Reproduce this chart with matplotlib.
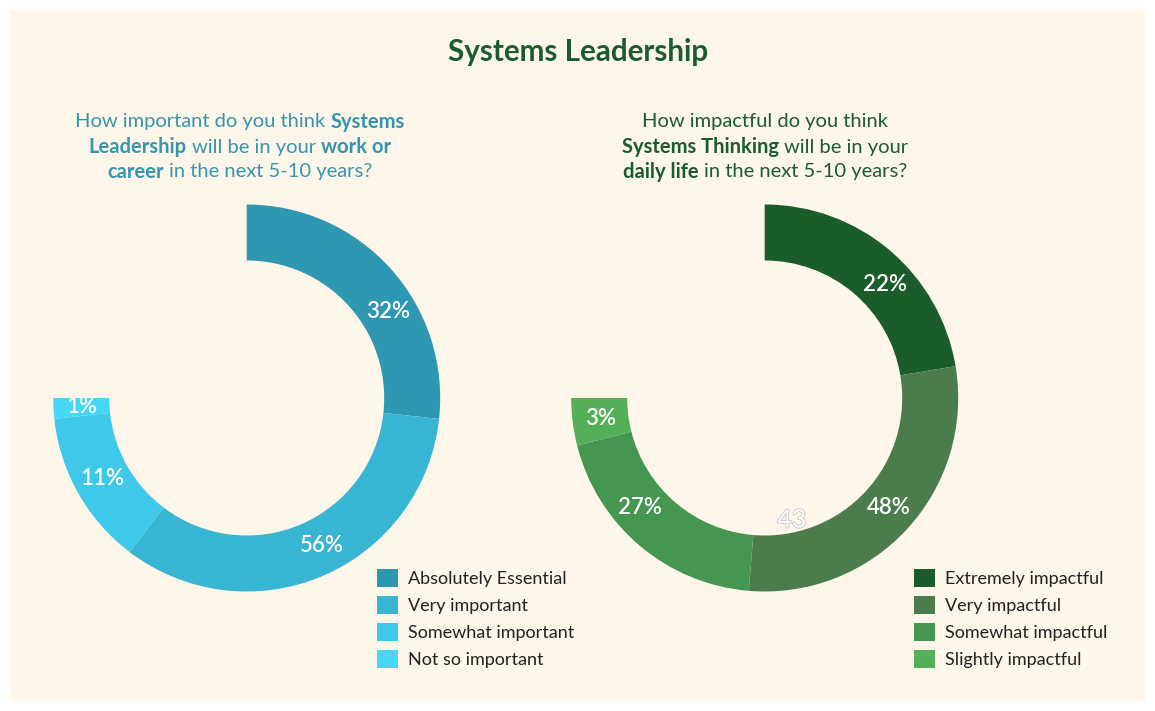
import math
import matplotlib
matplotlib.use("Agg")
import matplotlib.pyplot as plt
import matplotlib.patheffects as pe
from matplotlib.patches import Rectangle

# ---------------- data ----------------
left_categories = ["Absolutely Essential", "Very important", "Somewhat important", "Not so important"]
left_values = [31, 39, 15, 2]
left_labels = ["32%", "56%", "11%", "1%"]

right_categories = ["Extremely impactful", "Very impactful", "Somewhat impactful", "Slightly impactful"]
right_values = [17, 22, 15, 3]
right_labels = ["22%", "48%", "27%", "3%"]
right_extra_label = "43"

title = "Systems Leadership"
left_question = [
    [("How important do you think", False), ("Systems", True)],
    [("Leadership", True), ("will be in your", False), ("work or", True)],
    [("career", True), ("in the next 5-10 years?", False)],
]
right_question = [
    [("How impactful do you think", False)],
    [("Systems Thinking", True), ("will be in your", False)],
    [("daily life", True), ("in the next 5-10 years?", False)],
]

# ---------------- style ----------------
W, H = 1155, 711
FONT = "Lato"
CREAM = "#fdf6e9"
left_colors = ["#2e97b2", "#37b5d3", "#3ec9ea", "#45d6f8"]
right_colors = ["#1b5c2b", "#4a7d4b", "#449651", "#54b058"]
left_text_color = "#3596b0"
green_text = "#1a5c2e"
left_label_frac = [0.61, 0.47, 0.51, 0.5]
right_label_frac = [0.58, 0.49, 0.62, 0.5]

plt.rcParams["font.family"] = [FONT, "DejaVu Sans"]

fig = plt.figure(figsize=(W / 100, H / 100), dpi=100, facecolor="white")
bg = fig.add_axes([0, 0, 1, 1])
bg.set_xlim(0, W)
bg.set_ylim(H, 0)
bg.axis("off")
bg.add_patch(Rectangle((10, 10), 1135, 691, facecolor=CREAM, edgecolor="none", zorder=0))

bg.text(578, 52, title, ha="center", va="center", fontsize=21.3, fontweight="bold",
        color=green_text, zorder=2)

renderer = fig.canvas.get_renderer()


def text_width(s, bold, size):
    t = bg.text(0, 0, s, fontsize=size, fontweight="bold" if bold else "normal")
    w = t.get_window_extent(renderer).width
    t.remove()
    return w


def rich_lines(lines, cx, y0, dy, color, size):
    sp = text_width("a a", False, size) - text_width("aa", False, size)
    for i, segs in enumerate(lines):
        widths = [text_width(s, b, size) for s, b in segs]
        total = sum(widths) + sp * (len(segs) - 1)
        x = cx - total / 2
        for (s, b), w in zip(segs, widths):
            bg.text(x, y0 + i * dy, s, ha="left", va="center", fontsize=size,
                    fontweight="bold" if b else "normal", color=color, zorder=2)
            x += w + sp


rich_lines(left_question, 240, 122, 25, left_text_color, 14.5)
rich_lines(right_question, 765, 122, 25, green_text, 14.5)

R = 193.5
ring = 56 / R


def donut(center, values, colors, labels, fracs, cats, legend_xy):
    cx, cy = center
    ax = fig.add_axes([(cx - R) / W, 1 - (cy + R) / H, 2 * R / W, 2 * R / H])
    vals = list(values) + [sum(values) / 3]
    cols = list(colors) + ["none"]
    wedges, _ = ax.pie(vals, colors=cols, startangle=90, counterclock=False,
                       radius=1, wedgeprops=dict(width=ring, linewidth=0))
    wedges[-1].set_visible(False)
    ax.set_xlim(-1, 1)
    ax.set_ylim(-1, 1)
    ax.set_aspect("equal")
    ax.axis("off")
    rmid = 1 - ring / 2
    for w, lab, f in zip(wedges[:-1], labels, fracs):
        ang = math.radians(w.theta2 - f * (w.theta2 - w.theta1))
        ax.text(rmid * math.cos(ang), rmid * math.sin(ang), lab, ha="center", va="center",
                fontsize=16, fontweight="semibold", color="white")
    fig.legend(wedges[:-1], cats, loc="upper left",
               bbox_to_anchor=(legend_xy[0] / W, 1 - legend_xy[1] / H),
               frameon=False, fontsize=13, handlelength=1.15, handleheight=1.15,
               handletextpad=0.55, labelspacing=0.49, borderpad=0, borderaxespad=0,
               labelcolor="#222222")
    return ax


donut((246.7, 398), left_values, left_colors, left_labels, left_label_frac,
      left_categories, (377, 569))
axr = donut((764.7, 398), right_values, right_colors, right_labels, right_label_frac,
            right_categories, (914, 569))
axr.text(0.14, -0.63, right_extra_label, ha="center", va="center", fontsize=18,
         color="white", path_effects=[pe.withStroke(linewidth=1.3, foreground="#c8c8c8")])

fig.savefig("out.png", dpi=100, facecolor="white")
